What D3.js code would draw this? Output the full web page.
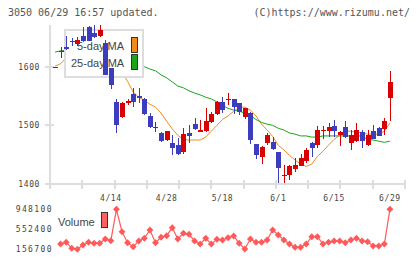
<!DOCTYPE html>
<html><head><meta charset="utf-8">
<script src="https://cdn.jsdelivr.net/npm/d3@7"></script>
<style>
html,body{margin:0;padding:0;background:#fff;}
svg{display:block;}
</style></head>
<body>
<svg id="c" width="420" height="259"></svg>
<script>
// ---- data ----
const openP  = [1598,1626,1634,1643,1639,1652,1668,1658,1653,1640,1598,1540,1514,1538,1553,1550,1545,1516,1496,1487,1475,1470,1466,1454,1487,1502,1488,1490,1505,1519,1540,1544,1545,1538,1514,1521,1468,1446,1470,1471,1454,1414,1415,1425,1430,1439,1470,1466,1491,1490,1499,1483,1497,1470,1473,1488,1466,1490,1495,1494,1546];
const highP  = [1600,1633,1652,1649,1651,1668,1670,1671,1671,1646,1598,1545,1540,1545,1564,1564,1546,1521,1505,1488,1491,1483,1478,1495,1500,1512,1509,1529,1523,1541,1548,1555,1545,1538,1530,1523,1469,1464,1487,1480,1454,1432,1432,1444,1452,1461,1471,1499,1499,1504,1509,1490,1507,1492,1504,1492,1492,1500,1497,1512,1593];
const lowP   = [1598,1614,1628,1635,1635,1642,1644,1649,1651,1585,1562,1487,1512,1534,1531,1538,1517,1495,1488,1471,1474,1449,1449,1452,1470,1492,1488,1489,1504,1518,1521,1534,1519,1517,1510,1468,1442,1434,1466,1458,1401,1401,1406,1420,1430,1436,1446,1461,1476,1480,1480,1464,1478,1458,1471,1461,1464,1476,1482,1483,1507];
const closeP = [1599,1627,1630,1642,1646,1644,1644,1651,1663,1586,1569,1500,1538,1542,1539,1546,1519,1497,1498,1473,1490,1461,1452,1485,1482,1494,1492,1507,1519,1540,1526,1545,1531,1523,1529,1475,1449,1463,1483,1459,1428,1415,1430,1432,1444,1458,1461,1492,1492,1497,1490,1488,1480,1483,1492,1473,1483,1476,1482,1507,1574];
const ma5    = [1601,1605,1615,1625,1630,1635,1640,1645,1650,1640,1625,1605,1590,1575,1557,1548,1543,1536,1531,1521,1507,1494,1483,1476,1475,1475,1475,1480,1490,1500,1510,1516,1524,1531,1531,1526,1516,1502,1492,1481,1466,1458,1449,1441,1434,1430,1434,1447,1456,1466,1476,1483,1490,1490,1488,1487,1485,1485,1485,1490,1504];
const ma25   = [1625,1627,1628,1629,1630,1631,1631,1630,1629,1627,1624,1620,1616,1612,1608,1604,1600,1596,1593,1586,1581,1574,1567,1564,1559,1555,1552,1548,1545,1540,1534,1529,1526,1524,1521,1517,1510,1505,1502,1500,1495,1492,1487,1485,1482,1482,1480,1480,1482,1482,1482,1482,1482,1482,1482,1482,1476,1475,1473,1471,1473];
const volume = [null,261600,295200,176500,156700,241800,295200,275400,275400,360000,326900,948100,504900,287300,208100,320900,374300,538500,287300,394100,425800,584100,360500,473300,453500,320900,261600,374300,261600,354500,340700,386200,419800,275400,162600,360500,295200,295200,340700,538500,439600,340700,261600,196300,196300,261600,406000,406000,261600,295200,320900,320900,287300,340700,374300,320900,307100,222000,222000,261600,948100];
const dateLabels = [[10,"4/14"],[20,"4/28"],[30,"5/18"],[40,"6/1"],[50,"6/15"],[60,"6/29"]];
const priceTicks = [1400,1500,1600];
const volTicks = [156700,552400,948100];
const titleText = "3050 06/29 16:57 updated.";
const copyText = "(C)https://www.rizumu.net/";

// ---- layout ----
const svg = d3.select("#c");
const L = 50, R = 405, T = 25, B = 184;
const idx = d3.range(openP.length);
const x = d3.scaleLinear().domain([-0.9, 62.7]).range([L, R]);
const y = d3.scaleLinear().domain([1400, 1600]).range([B, 66.7]);
const yv = d3.scaleLinear().domain([156700, 948100]).range([249.3, 209.3]);

const grid = "#dddddd";
const textCol = "#444";
const mono = "'DejaVu Sans Mono', monospace";
const sans = "'Liberation Sans', Arial, sans-serif";

// title texts
svg.append("text").attr("x", 8).attr("y", 16).attr("font-family", mono).attr("font-size", 10)
  .attr("fill", "#555").text(titleText);
svg.append("text").attr("x", 410).attr("y", 16).attr("text-anchor", "end").attr("font-family", mono)
  .attr("font-size", 10).attr("fill", "#555").text(copyText);

// axes lines
const ax = svg.append("g").attr("shape-rendering", "crispEdges").attr("stroke", grid).attr("stroke-width", 2);
ax.append("line").attr("x1", L).attr("x2", L).attr("y1", T).attr("y2", B + 5);
ax.append("line").attr("x1", L - 5).attr("x2", R).attr("y1", B).attr("y2", B);
priceTicks.forEach(p => ax.append("line").attr("x1", L - 5).attr("x2", L + 4).attr("y1", y(p)).attr("y2", y(p)));
const xt = d3.scaleLinear().domain([0, 11]).range([L, R]);
d3.range(12).forEach(k => ax.append("line").attr("x1", xt(k)).attr("x2", xt(k)).attr("y1", B - 4).attr("y2", B + 5));

// price labels
priceTicks.forEach(p => svg.append("text").attr("x", 40).attr("y", y(p) + 3).attr("text-anchor", "end")
  .attr("font-family", mono).attr("font-size", 8).attr("letter-spacing", 0.6).attr("fill", textCol).text(p));
// date labels
dateLabels.forEach(([i, t]) => svg.append("text").attr("x", x(i)).attr("y", 201).attr("text-anchor", "middle")
  .attr("font-family", mono).attr("font-size", 8).attr("letter-spacing", 0.6).attr("fill", textCol).text(t));
// volume labels
volTicks.forEach(v => svg.append("text").attr("x", 53).attr("y", yv(v) + 3).attr("text-anchor", "end")
  .attr("font-family", mono).attr("font-size", 8).attr("letter-spacing", 1.4).attr("fill", textCol).text(v));

// MA lines
svg.append("path").attr("fill", "none").attr("stroke", "#f08c1c").attr("stroke-width", 1)
  .attr("d", d3.line().x(i => x(i)).y(i => y(ma5[i]))(idx));
svg.append("path").attr("fill", "none").attr("stroke", "#1aa51a").attr("stroke-width", 1)
  .attr("d", d3.line().x(i => x(i)).y(i => y(ma25[i]))(idx));

// legend box and texts (under candles)
svg.append("rect").attr("x", 65).attr("y", 30).attr("width", 78).attr("height", 47)
  .attr("fill", "#fff").attr("stroke", grid).attr("stroke-width", 2).attr("shape-rendering", "crispEdges");
svg.append("text").attr("x", 77).attr("y", 50).attr("font-family", sans).attr("font-size", 11).attr("fill", textCol).text("5-day MA");
svg.append("text").attr("x", 71).attr("y", 66.5).attr("font-family", sans).attr("font-size", 11).attr("fill", textCol).text("25-day MA");
svg.append("rect").attr("x", 131.5).attr("y", 37.5).attr("width", 6).attr("height", 15).attr("fill", "#f08c1c").attr("stroke", "#333");
svg.append("rect").attr("x", 131.5).attr("y", 54.5).attr("width", 6).attr("height", 15).attr("fill", "#1aa51a").attr("stroke", "#333");

// candles
const red = "#d80000", blue = "#3c3cbe";
const cg = svg.append("g").attr("shape-rendering", "crispEdges");
idx.forEach(i => {
  const up = closeP[i] >= openP[i];
  const col = up ? red : blue;
  const cx = Math.round(x(i)) + 0.5;
  cg.append("line").attr("x1", cx).attr("x2", cx).attr("y1", y(highP[i])).attr("y2", y(lowP[i]))
    .attr("stroke", col).attr("stroke-width", 1);
  const top = y(Math.max(openP[i], closeP[i])), bot = y(Math.min(openP[i], closeP[i]));
  cg.append("rect").attr("x", cx - 2.5).attr("y", top).attr("width", 5).attr("height", Math.max(1, bot - top))
    .attr("fill", col);
});

// volume line
const vcol = "#ff5a5a";
const vIdx = idx.filter(i => volume[i] != null);
svg.append("path").attr("fill", "none").attr("stroke", vcol).attr("stroke-width", 1.2)
  .attr("d", d3.line().defined(i => volume[i] != null).x(i => x(i)).y(i => yv(volume[i]))(idx));
svg.append("g").selectAll("path").data(vIdx).join("path")
  .attr("transform", i => `translate(${x(i)},${yv(volume[i])})`)
  .attr("d", d3.symbol(d3.symbolDiamond2, 30)).attr("fill", vcol);

// volume legend
svg.append("rect").attr("x", 56).attr("y", 210).attr("width", 53).attr("height", 26).attr("fill", "#fff");
svg.append("text").attr("x", 58).attr("y", 226).attr("font-family", sans).attr("font-size", 11).attr("fill", textCol).text("Volume");
svg.append("rect").attr("x", 101.5).attr("y", 212.5).attr("width", 6).attr("height", 15).attr("fill", "#ff6060").attr("stroke", "#333");
</script>
</body></html>
